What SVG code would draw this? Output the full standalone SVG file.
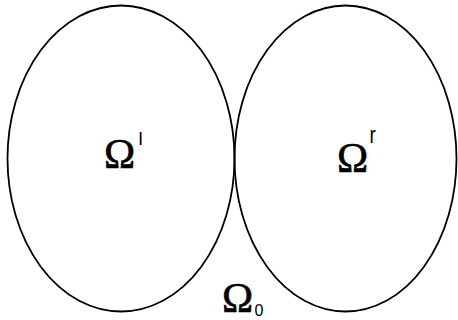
<svg xmlns="http://www.w3.org/2000/svg" width="458" height="320" viewBox="0 0 458 320">
<style>
.reg{fill:none;stroke:#000;stroke-width:1.8}
.om{font-family:"Liberation Serif","Times New Roman",serif;font-size:42px;fill:#000;stroke:#000;stroke-width:0.6}
.sc{font-family:"Liberation Sans",sans-serif;fill:#000}
</style>
<rect width="458" height="320" fill="#fff"/>
<g id="omega-l">
<ellipse class="reg" cx="121" cy="158.5" rx="113.5" ry="153"/>
<text class="om" x="104" y="168">Ω</text>
<text class="sc" x="138.5" y="145" font-size="19">l</text>
</g>
<g id="omega-r">
<ellipse class="reg" cx="345.5" cy="158.5" rx="111" ry="153"/>
<text class="om" x="337" y="172">Ω</text>
<text class="sc" x="369.5" y="143" font-size="19" transform="translate(369 143) scale(1 1.3) translate(-369 -143)">r</text>
</g>
<g id="omega-0">
<text class="om" x="222" y="312">Ω</text>
<text class="sc" x="254.5" y="316" font-size="16">0</text>
</g>
</svg>
